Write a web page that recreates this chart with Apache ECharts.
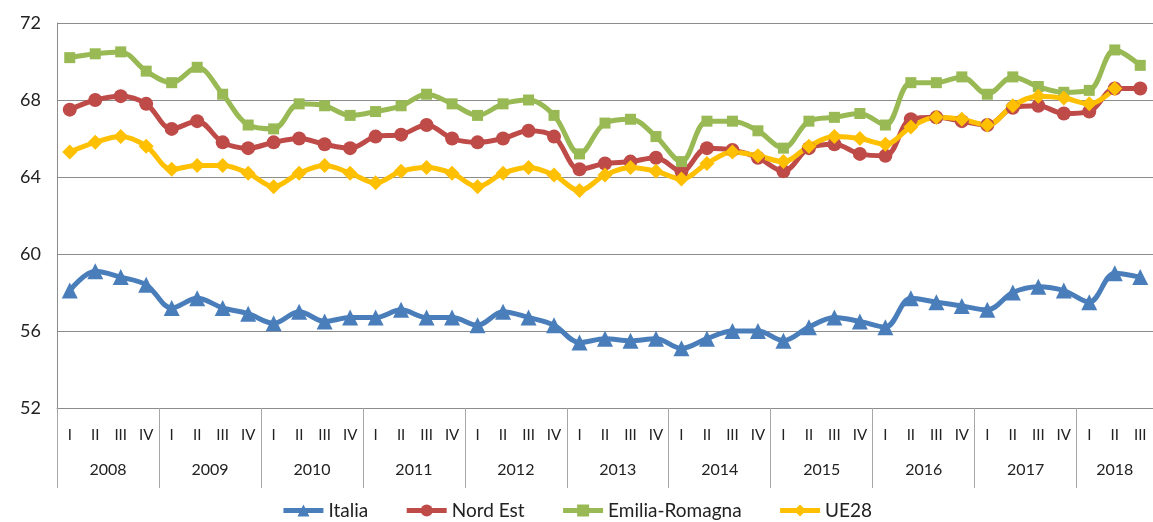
<!DOCTYPE html>
<html>
<head>
<meta charset="utf-8">
<script src="https://cdn.jsdelivr.net/npm/echarts@6/dist/echarts.min.js"></script>
<style>
  html, body { margin: 0; padding: 0; background: #fff; }
  #chart { width: 1153px; height: 522px; }
</style>
</head>
<body>
<div id="chart"></div>
<script>
// dati
const years = ['2008', '2009', '2010', '2011', '2012', '2013', '2014', '2015', '2016', '2017', '2018']
const quarters = ['I', 'II', 'III', 'IV']
const yTicks = [52, 56, 60, 64, 68, 72]

const italia = [
  58.1, 59.1, 58.8, 58.4, 57.2, 57.7, 57.2, 56.9, 56.4, 57.0, 56.5, 56.7,
  56.7, 57.1, 56.7, 56.7, 56.3, 57.0, 56.7, 56.3, 55.4, 55.6, 55.5, 55.6,
  55.1, 55.6, 56.0, 56.0, 55.5, 56.2, 56.7, 56.5, 56.2, 57.7, 57.5, 57.3,
  57.1, 58.0, 58.3, 58.1, 57.5, 59.0, 58.8,
]
const nordEst = [
  67.5, 68.0, 68.2, 67.8, 66.5, 66.9, 65.8, 65.5, 65.8, 66.0, 65.7, 65.5,
  66.1, 66.2, 66.7, 66.0, 65.8, 66.0, 66.4, 66.1, 64.4, 64.7, 64.8, 65.0,
  64.3, 65.5, 65.4, 65.0, 64.3, 65.5, 65.7, 65.2, 65.1, 67.0, 67.1, 66.9,
  66.7, 67.6, 67.7, 67.3, 67.4, 68.6, 68.6,
]
const emiliaRomagna = [
  70.2, 70.4, 70.5, 69.5, 68.9, 69.7, 68.3, 66.7, 66.5, 67.8, 67.7, 67.2,
  67.4, 67.7, 68.3, 67.8, 67.2, 67.8, 68.0, 67.2, 65.2, 66.8, 67.0, 66.1,
  64.8, 66.9, 66.9, 66.4, 65.5, 66.9, 67.1, 67.3, 66.7, 68.9, 68.9, 69.2,
  68.3, 69.2, 68.7, 68.4, 68.5, 70.6, 69.8,
]
const ue28 = [
  65.3, 65.8, 66.1, 65.6, 64.4, 64.6, 64.6, 64.2, 63.5, 64.2, 64.6, 64.2,
  63.7, 64.3, 64.5, 64.2, 63.5, 64.2, 64.5, 64.1, 63.3, 64.1, 64.5, 64.3,
  63.9, 64.7, 65.3, 65.1, 64.8, 65.6, 66.1, 66.0, 65.7, 66.6, 67.1, 67.0,
  66.7, 67.7, 68.2, 68.1, 67.8, 68.6, null,
]

// categorie: trimestri (ultimo anno solo 3)
let quarterCats = []
let yearCats = []
years.forEach((y) => {
  quarters.forEach((q) => {
    if (quarterCats.length < italia.length) {
      quarterCats.push(q)
      yearCats.push(y)
    }
  })
})

const font = 'Lato, "Open Sans", sans-serif'
const catW = (1153 + 7 - 57) / quarterCats.length

let myChart = echarts.init(document.getElementById('chart'))

function lineSeries(name, data, color, symbol, size) {
  return {
    name: name,
    type: 'line',
    data: data,
    smooth: 0.35,
    symbol: symbol,
    symbolSize: size,
    showSymbol: true,
    lineStyle: { color: color, width: 5 },
    itemStyle: { color: color },
    emphasis: { disabled: true },
  }
}

let options = {
  animation: false,
  grid: {
    left: 57,
    right: -7,
    top: 23,
    bottom: 114,
  },
  legend: {
    top: 496,
    left: 'center',
    itemWidth: 40,
    itemHeight: 15,
    itemGap: 36,
    lineStyle: { width: 5 },
    textStyle: { fontFamily: font, fontSize: 19, color: '#222' },
    data: ['Italia', 'Nord Est', 'Emilia-Romagna', 'UE28'],
  },
  xAxis: [
    {
      type: 'category',
      data: quarterCats,
      boundaryGap: true,
      axisLine: { lineStyle: { color: '#8c8c8c', width: 1 } },
      axisTick: {
        show: true,
        interval: (i) => i % 4 === 0,
        length: 80,
        lineStyle: { color: '#a6a6a6' },
      },
      axisLabel: {
        interval: 0,
        margin: 20,
        fontFamily: font,
        fontSize: 15,
        color: '#222',
      },
    },
    {
      type: 'category',
      data: yearCats,
      position: 'bottom',
      offset: 34,
      boundaryGap: true,
      axisLine: { show: false },
      axisTick: { show: false },
      axisLabel: {
        interval: (i) => i % 4 === 1,
        margin: 20,
        formatter: (v, i) => (i + 2 < yearCats.length ? '{a|' + v + '}' : '{b|' + v + '}'),
        rich: {
          a: { padding: [0, 0, 0, catW], fontFamily: font, fontSize: 16, color: '#222' },
          b: { fontFamily: font, fontSize: 16, color: '#222' },
        },
      },
    },
  ],
  yAxis: {
    type: 'value',
    min: yTicks[0],
    max: yTicks[yTicks.length - 1],
    interval: 4,
    axisLine: { show: true, lineStyle: { color: '#8c8c8c' } },
    axisTick: { show: false },
    splitLine: { lineStyle: { color: '#8c8c8c', width: 1 } },
    axisLabel: {
      margin: 16,
      fontFamily: font,
      fontSize: 18,
      color: '#222',
    },
  },
  series: [
    lineSeries('Italia', italia, '#4a7ebb', 'triangle', 16),
    lineSeries('Nord Est', nordEst, '#be4b48', 'circle', 14),
    lineSeries('Emilia-Romagna', emiliaRomagna, '#98b954', 'rect', 11),
    lineSeries('UE28', ue28, '#fec000', 'diamond', 15),
  ],
}

myChart.setOption(options)
</script>
</body>
</html>
